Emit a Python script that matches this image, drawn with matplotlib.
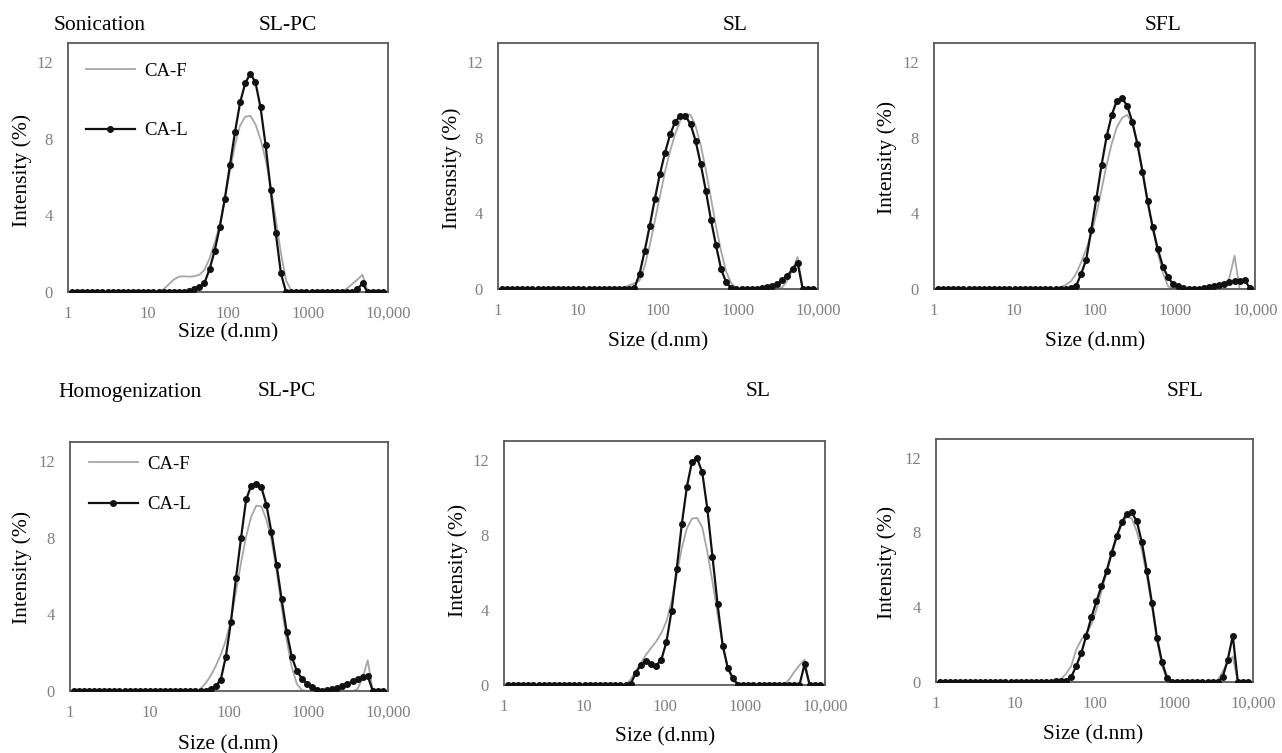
"""DLS size distributions of CA-F / CA-L nanoparticles (sonication vs homogenization)."""

import matplotlib
matplotlib.use("Agg")
import matplotlib.pyplot as plt
from matplotlib.lines import Line2D

plt.rcParams.update(
    {
        "font.family": ["Liberation Serif", "DejaVu Serif"],
        "font.size": 11,
        "axes.linewidth": 1.3,
        "axes.edgecolor": "#595959",
    }
)

W, H = 1282, 753

# ---------------------------------------------------------------------------
# Data (Zetasizer size bins, intensity %)
# ---------------------------------------------------------------------------

SIZE_NM = [
    1.117, 1.294, 1.499, 1.736, 2.010, 2.328, 2.696, 3.122, 3.615, 4.187, 4.849, 5.615, 6.503, 7.531, 8.721,
    10.10, 11.70, 13.54, 15.69, 18.17, 21.04, 24.36, 28.21, 32.67, 37.84, 43.82, 50.75, 58.77, 68.06, 78.82, 91.28,
    105.7, 122.4, 141.8, 164.2, 190.1, 220.2, 255.0, 295.3, 342.0, 396.1, 458.7, 531.2, 615.1, 712.4, 825.0, 955.4,
    1106, 1281, 1484, 1718, 1990, 2305, 2669, 3091, 3580, 4145, 4801, 5560, 6439, 7456, 8635,
]

SON_SLPC_F = [
    0, 0, 0, 0, 0, 0, 0, 0, 0, 0, 0, 0, 0, 0, 0,
    0, 0, 0, 0.15, 0.4, 0.65, 0.8, 0.82, 0.8, 0.82, 0.9, 1.15, 1.75, 2.55, 3.5, 4.9,
    6.3, 7.7, 8.7, 9.15, 9.2, 8.76, 7.97, 6.92, 5.52, 3.77, 2.03, 0.61, 0.09, 0, 0, 0,
    0, 0, 0, 0, 0, 0, 0, 0.2, 0.42, 0.65, 0.9, 0, 0, 0, 0,
]
SON_SLPC_L = [
    0, 0, 0, 0, 0, 0, 0, 0, 0, 0, 0, 0, 0, 0, 0,
    0, 0, 0, 0, 0, 0, 0, 0, 0.03, 0.15, 0.26, 0.47, 1.19, 2.15, 3.38, 4.87,
    6.62, 8.36, 9.9, 10.9, 11.4, 10.95, 9.64, 7.66, 5.31, 3.07, 0.97, 0, 0, 0, 0, 0,
    0, 0, 0, 0, 0, 0, 0, 0, 0, 0.15, 0.45, 0, 0, 0, 0,
]

SON_SL_F = [
    0, 0, 0, 0, 0, 0, 0, 0, 0, 0, 0, 0, 0, 0, 0,
    0, 0, 0, 0, 0, 0, 0, 0, 0, 0.08, 0.2, 0.3, 0.45, 1.2, 2.3, 3.6,
    4.9, 6.2, 7.3, 8.2, 8.9, 9.25, 9.2, 8.6, 7.6, 6.3, 4.8, 3.3, 2.0, 0.9, 0.3, 0.05,
    0, 0, 0, 0, 0, 0, 0, 0, 0.1, 0.45, 1.0, 1.7, 0, 0, 0,
]
SON_SL_L = [
    0, 0, 0, 0, 0, 0, 0, 0, 0, 0, 0, 0, 0, 0, 0,
    0, 0, 0, 0, 0, 0, 0, 0, 0, 0, 0, 0.05, 0.8, 2.0, 3.34, 4.76,
    6.08, 7.2, 8.17, 8.84, 9.14, 9.14, 8.72, 7.82, 6.6, 5.2, 3.66, 2.3, 1.05, 0.35, 0.05, 0,
    0, 0, 0, 0.02, 0.05, 0.1, 0.15, 0.26, 0.46, 0.7, 1.05, 1.4, 0, 0, 0,
]

SON_SFL_F = [
    0, 0, 0, 0, 0, 0, 0, 0, 0, 0, 0, 0, 0, 0, 0,
    0, 0, 0, 0, 0, 0, 0, 0, 0.02, 0.1, 0.22, 0.4, 0.8, 1.4, 2.1, 2.9,
    4.0, 5.25, 6.57, 7.7, 8.56, 9.04, 9.2, 8.78, 7.7, 6.3, 4.7, 3.2, 1.9, 0.85, 0.14, 0,
    0, 0, 0, 0, 0, 0, 0, 0, 0, 0, 0.6, 1.76, 0, 0, 0,
]
SON_SFL_L = [
    0, 0, 0, 0, 0, 0, 0, 0, 0, 0, 0, 0, 0, 0, 0,
    0, 0, 0, 0, 0, 0, 0, 0, 0, 0, 0, 0.05, 0.14, 0.79, 1.55, 3.14,
    4.8, 6.55, 8.07, 9.2, 9.96, 10.08, 9.69, 8.85, 7.67, 6.2, 4.63, 3.26, 2.11, 1.18, 0.62, 0.26,
    0.14, 0.05, 0, 0, 0, 0.05, 0.1, 0.14, 0.2, 0.26, 0.37, 0.4, 0.43, 0.46, 0.05,
]

HOM_SLPC_F = [
    0, 0, 0, 0, 0, 0, 0, 0, 0, 0, 0, 0, 0, 0, 0,
    0, 0, 0, 0, 0, 0, 0, 0, 0, 0, 0.12, 0.4, 0.8, 1.3, 1.9, 2.65,
    3.7, 5.2, 6.7, 8.07, 9.1, 9.68, 9.64, 8.94, 7.9, 6.3, 4.4, 2.65, 1.26, 0.38, 0.05, 0,
    0, 0, 0, 0, 0, 0, 0, 0, 0, 0.1, 0.7, 1.6, 0, 0, 0,
]
HOM_SLPC_L = [
    0, 0, 0, 0, 0, 0, 0, 0, 0, 0, 0, 0, 0, 0, 0,
    0, 0, 0, 0, 0, 0, 0, 0, 0, 0, 0, 0.02, 0.1, 0.25, 0.6, 1.8,
    3.6, 5.9, 8.0, 10.0, 10.72, 10.83, 10.64, 9.73, 8.28, 6.6, 4.8, 3.1, 1.8, 1.05, 0.65, 0.38,
    0.2, 0.05, 0, 0.03, 0.08, 0.15, 0.25, 0.38, 0.5, 0.62, 0.75, 0.78, 0, 0, 0,
]

HOM_SL_F = [
    0, 0, 0, 0, 0, 0, 0, 0, 0, 0, 0, 0, 0, 0, 0,
    0, 0, 0, 0, 0, 0, 0, 0, 0, 0.3, 0.73, 1.17, 1.61, 1.97, 2.32, 2.77,
    3.39, 4.45, 5.87, 7.3, 8.35, 8.87, 8.9, 8.4, 7.1, 5.5, 3.76, 2.16, 0.92, 0.2, 0, 0,
    0, 0, 0, 0, 0, 0, 0, 0, 0.3, 0.7, 1.05, 1.35, 0, 0, 0,
]
HOM_SL_L = [
    0, 0, 0, 0, 0, 0, 0, 0, 0, 0, 0, 0, 0, 0, 0,
    0, 0, 0, 0, 0, 0, 0, 0, 0, 0.05, 0.64, 1.08, 1.29, 1.12, 1.03, 1.35,
    2.29, 3.95, 6.17, 8.56, 10.57, 11.9, 12.07, 11.33, 9.38, 6.84, 4.3, 2.1, 0.9, 0.37, 0.02, 0,
    0, 0, 0, 0, 0, 0, 0, 0, 0, 0, 0, 1.1, 0, 0, 0,
]

HOM_SFL_F = [
    0, 0, 0, 0, 0, 0, 0, 0, 0, 0, 0, 0, 0, 0, 0,
    0, 0, 0, 0, 0, 0, 0, 0, 0.02, 0.15, 0.45, 0.84, 1.73, 2.26, 2.62, 3.07,
    3.87, 4.85, 5.83, 6.8, 7.7, 8.4, 8.85, 8.75, 8.04, 7.06, 5.63, 4.03, 2.26, 0.84, 0.13, 0,
    0, 0, 0, 0, 0, 0, 0, 0, 0.1, 0.55, 1.05, 1.37, 0, 0, 0,
]
HOM_SFL_L = [
    0, 0, 0, 0, 0, 0, 0, 0, 0, 0, 0, 0, 0, 0, 0,
    0, 0, 0, 0, 0, 0, 0, 0, 0.04, 0.07, 0.07, 0.27, 0.84, 1.55, 2.48, 3.46,
    4.31, 5.12, 5.92, 6.9, 7.79, 8.54, 9.0, 9.07, 8.59, 7.47, 5.92, 4.22, 2.35, 1.05, 0.21, 0,
    0, 0, 0, 0, 0, 0, 0, 0, 0, 0.27, 1.19, 2.48, 0, 0, 0,
]

X_TICKS = [1, 10, 100, 1000, 10000]
X_TICK_LABELS = ["1", "10", "100", "1000", "10,000"]
Y_TICKS = [0, 4, 8, 12]

# ---------------------------------------------------------------------------
# Layout (pixel boxes: left, top, right, bottom)
# ---------------------------------------------------------------------------

PANELS = [
    dict(f=SON_SLPC_F, l=SON_SLPC_L, box=(68, 43, 388, 292), ylab="Intensity (%)",
         ylab_xy=(22, 170), xlab_xy=(228, 333), legend=(0.056, 0.92, 2.25)),
    dict(f=SON_SL_F, l=SON_SL_L, box=(498, 43, 818, 289), ylab="Intesnsity (%)",
         ylab_xy=(452, 168), xlab_xy=(658, 342), legend=None),
    dict(f=SON_SFL_F, l=SON_SFL_L, box=(934, 43, 1255, 289), ylab="Intensity (%)",
         ylab_xy=(887, 157), xlab_xy=(1095, 342), legend=None),
    dict(f=HOM_SLPC_F, l=HOM_SLPC_L, box=(70, 442, 388, 691), ylab="Intensity (%)",
         ylab_xy=(22, 567), xlab_xy=(228, 745), legend=(0.06, 0.945, 1.25)),
    dict(f=HOM_SL_F, l=HOM_SL_L, box=(504, 441, 825, 685), ylab="Intensity (%)",
         ylab_xy=(458, 560), xlab_xy=(665, 737), legend=None),
    dict(f=HOM_SFL_F, l=HOM_SFL_L, box=(936, 439, 1253, 682), ylab="Intensity (%)",
         ylab_xy=(887, 562), xlab_xy=(1093, 735), legend=None),
]

TITLES = [
    ("Sonication", 100, 25), ("SL-PC", 288, 25), ("SL", 735, 25), ("SFL", 1163, 25),
    ("Homogenization", 130, 392), ("SL-PC", 287, 392), ("SL", 758, 391), ("SFL", 1185, 391),
]

C_F = "#a6a6a6"
C_L = "#111111"
C_TICK = "#808080"
LABEL_FS = 15.5


def fx(px):
    return px / W


def fy(py):
    return 1 - py / H


def draw_panel(fig, p):
    l, t, r, b = p["box"]
    ax = fig.add_axes([fx(l), fy(b), (r - l) / W, (b - t) / H])

    ax.plot(SIZE_NM, p["f"], color=C_F, linewidth=1.3, zorder=2)
    ax.plot(SIZE_NM, p["l"], color=C_L, linewidth=1.6, marker="o",
            markersize=4.0, zorder=3)

    ax.set_xscale("log")
    ax.set_xlim(1, 10000)
    ax.set_ylim(0, 13)
    ax.set_xticks(X_TICKS)
    ax.set_xticklabels(X_TICK_LABELS)
    ax.minorticks_off()
    ax.set_yticks(Y_TICKS)
    ax.tick_params(axis="both", length=0, colors=C_TICK, labelsize=12)
    ax.tick_params(axis="x", pad=10)
    ax.tick_params(axis="y", pad=11)

    if p["legend"] is not None:
        lx, ly, spacing = p["legend"]
        handles = [
            Line2D([], [], color=C_F, linewidth=1.3, label="CA-F"),
            Line2D([], [], color=C_L, linewidth=1.6, marker="o", markersize=4.0, label="CA-L"),
        ]
        ax.legend(handles=handles, loc="upper left", bbox_to_anchor=(lx, ly),
                  frameon=False, fontsize=13.5, labelspacing=spacing,
                  handlelength=2.6, handletextpad=0.5, borderpad=0,
                  borderaxespad=0, numpoints=1)

    fig.text(fx(p["xlab_xy"][0]), fy(p["xlab_xy"][1]), "Size (d.nm)",
             ha="center", va="center", fontsize=LABEL_FS)
    fig.text(fx(p["ylab_xy"][0]), fy(p["ylab_xy"][1]), p["ylab"],
             ha="center", va="center", rotation=90, fontsize=LABEL_FS)
    return ax


def main():
    fig = plt.figure(figsize=(W / 100, H / 100), dpi=100)
    for p in PANELS:
        draw_panel(fig, p)
    for text, x, y in TITLES:
        fig.text(fx(x), fy(y), text, ha="center", va="center", fontsize=LABEL_FS)
    fig.savefig("out.png", dpi=100, facecolor="white")
    plt.close(fig)


if __name__ == "__main__":
    main()
